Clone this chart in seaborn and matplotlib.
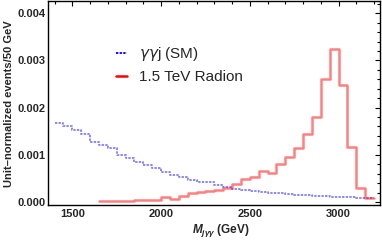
import matplotlib.pyplot as plt
import numpy as np
import pandas as pd
import seaborn as sns
from matplotlib.lines import Line2D
from matplotlib.ticker import MultipleLocator

# 50 GeV bins, left edges
sm_edges = list(range(1400, 3200, 50))
sm_vals = [
    0.00168, 0.00161, 0.00153, 0.00143, 0.00128, 0.00121, 0.00114, 0.00100,
    0.00093, 0.00085, 0.00078, 0.00071, 0.00064, 0.00058, 0.00052, 0.00047,
    0.00043, 0.00042, 0.00036, 0.00032, 0.00028, 0.00026, 0.00023, 0.00021,
    0.00020, 0.00019, 0.00016, 0.00015, 0.00014, 0.00013, 0.00012, 0.00011,
    0.00010, 0.00010, 0.00008, 0.00008,
]
rad_edges = list(range(1650, 3200, 50))
rad_vals = [
    0.00001, 0.00001, 0.00002, 0.00003, 0.00004, 0.00005, 0.00005, 0.00010,
    0.00006, 0.00012, 0.00019, 0.00022, 0.00023, 0.00025, 0.00030, 0.00039,
    0.00049, 0.00052, 0.00066, 0.00061, 0.00080, 0.00096, 0.00115, 0.00145,
    0.00180, 0.00260, 0.00324, 0.00248, 0.00117, 0.00029, 0.00009,
]
labels = [r"$\gamma\gamma$j (SM)", "1.5 TeV Radion"]

sm = pd.DataFrame({"m": np.array(sm_edges) + 25, "w": sm_vals})
rad = pd.DataFrame({"m": np.array(rad_edges) + 25, "w": rad_vals})

sns.set_style("white")
plt.rcParams["font.family"] = ["Liberation Sans", "DejaVu Sans"]
plt.rcParams["mathtext.fontset"] = "custom"
plt.rcParams["mathtext.it"] = "Liberation Sans:italic:bold"
plt.rcParams["mathtext.rm"] = "Liberation Sans:bold"

fig = plt.figure(figsize=(3.82, 2.40), dpi=100)
ax = fig.add_axes([0.126, 0.146, 0.87, 0.848])

dots = (0, (1.3, 0.7))
sns.histplot(data=sm, x="m", weights="w", bins=sm_edges + [3200],
             element="step", fill=False, color="#0000ff", alpha=0.5,
             linewidth=1.3, linestyle=dots, ax=ax)
sns.histplot(data=rad, x="m", weights="w", bins=rad_edges + [3200],
             element="step", fill=False, color="#ff0000", alpha=0.5,
             linewidth=1.8, ax=ax)

ax.set_xlim(1364, 3236)
ax.set_ylim(-0.000064, 0.00425)
ax.xaxis.set_major_locator(MultipleLocator(500))
ax.xaxis.set_minor_locator(MultipleLocator(100))
ax.yaxis.set_major_locator(MultipleLocator(0.001))
ax.yaxis.set_minor_locator(MultipleLocator(0.0002))
ax.yaxis.set_major_formatter(lambda v, p: f"{v:.3f}")
ax.tick_params(which="both", direction="in", top=True, right=True,
               labelsize=8, width=0.8, color="black")
ax.tick_params(which="major", length=3.5)
ax.tick_params(which="minor", length=2)
ax.tick_params(axis="x", pad=3)
ax.tick_params(axis="y", pad=2)
ax.tick_params(top=True, right=True, labeltop=False, labelright=False)
for t in ax.get_xticklabels() + ax.get_yticklabels():
    t.set_fontweight("bold")
for s in ax.spines.values():
    s.set_color("black")
    s.set_linewidth(1.0)

ax.set_xlabel(r"$M_{j\gamma\gamma}$ (GeV)", fontsize=8.5, fontweight="bold")
ax.set_ylabel("Unit\u2013normalized events/50 GeV", fontsize=8,
              fontweight="bold", labelpad=2)
ax.xaxis.set_label_coords(0.52, -0.085)

handles = [
    Line2D([], [], color="#0000ff", linewidth=1.3, linestyle=dots),
    Line2D([], [], color="#ff0000", linewidth=1.8),
]
leg = ax.legend(handles, labels, loc="upper left",
                bbox_to_anchor=(0.205, 0.785), frameon=False, fontsize=11,
                handlelength=0.7, handletextpad=0.8, labelspacing=0.45,
                borderpad=0, borderaxespad=0)
leg.get_texts()[0].set_math_fontfamily("dejavusans")

fig.savefig("out.png", dpi=100)
